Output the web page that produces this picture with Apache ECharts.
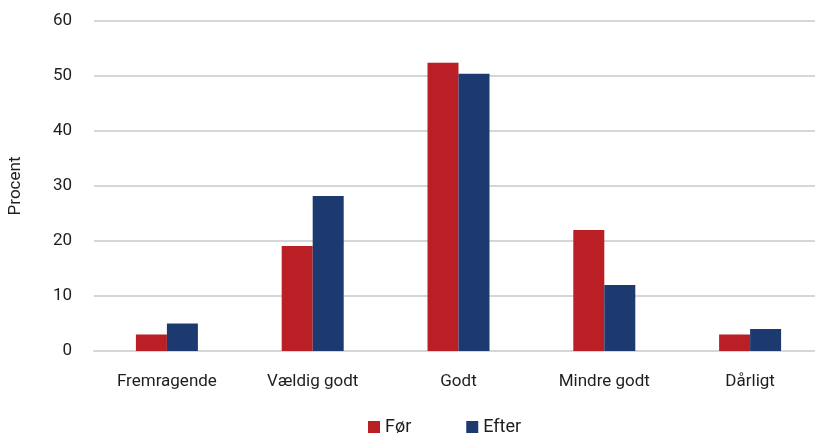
<!DOCTYPE html>
<html>
<head>
<meta charset="utf-8">
<script src="https://cdn.jsdelivr.net/npm/echarts@6/dist/echarts.min.js"></script>
<style>
  html, body { margin: 0; padding: 0; background: #fff; }
  #chart { width: 815px; height: 435px; }
</style>
</head>
<body>
<div id="chart"></div>
<script>
var categories = ['Fremragende', 'Vældig godt', 'Godt', 'Mindre godt', 'Dårligt'];
var forValues = [3, 19.1, 52.4, 22, 3];
var efterValues = [5, 28.2, 50.4, 12, 4];

var myChart = echarts.init(document.getElementById('chart'));

var font = 'Roboto, "Noto Sans", sans-serif';

var option = {
    textStyle: { fontFamily: font },
    grid: { left: 94, width: 729, top: 21, height: 330, outerBoundsMode: 'none' },
    legend: {
        data: ['Før', 'Efter'],
        top: 413,
        left: 363,
        itemWidth: 12,
        itemHeight: 12,
        itemGap: 55,
        icon: 'rect',
        textStyle: { fontSize: 18, color: '#1e1e1e', fontFamily: font }
    },
    xAxis: {
        type: 'category',
        data: categories,
        axisLine: { lineStyle: { color: '#d6d6d6', width: 2 } },
        axisTick: { show: false },
        axisLabel: { fontSize: 17, color: '#1e1e1e', margin: 22 }
    },
    yAxis: {
        type: 'value',
        min: 0,
        max: 60,
        interval: 10,
        name: 'Procent',
        nameLocation: 'middle',
        nameRotate: 90,
        nameGap: 70,
        nameTextStyle: { fontSize: 17, color: '#1e1e1e' },
        axisLine: { show: false },
        axisTick: { show: false },
        axisLabel: { fontSize: 17, color: '#1e1e1e', margin: 22 },
        splitLine: { lineStyle: { color: '#d6d6d6', width: 2 } }
    },
    series: [
        {
            name: 'Før',
            type: 'bar',
            data: forValues,
            barWidth: 31,
            barGap: '0%',
            itemStyle: { color: '#B91F24' }
        },
        {
            name: 'Efter',
            type: 'bar',
            data: efterValues,
            barWidth: 31,
            itemStyle: { color: '#1D3A70' }
        }
    ]
};

myChart.setOption(option);
</script>
</body>
</html>
